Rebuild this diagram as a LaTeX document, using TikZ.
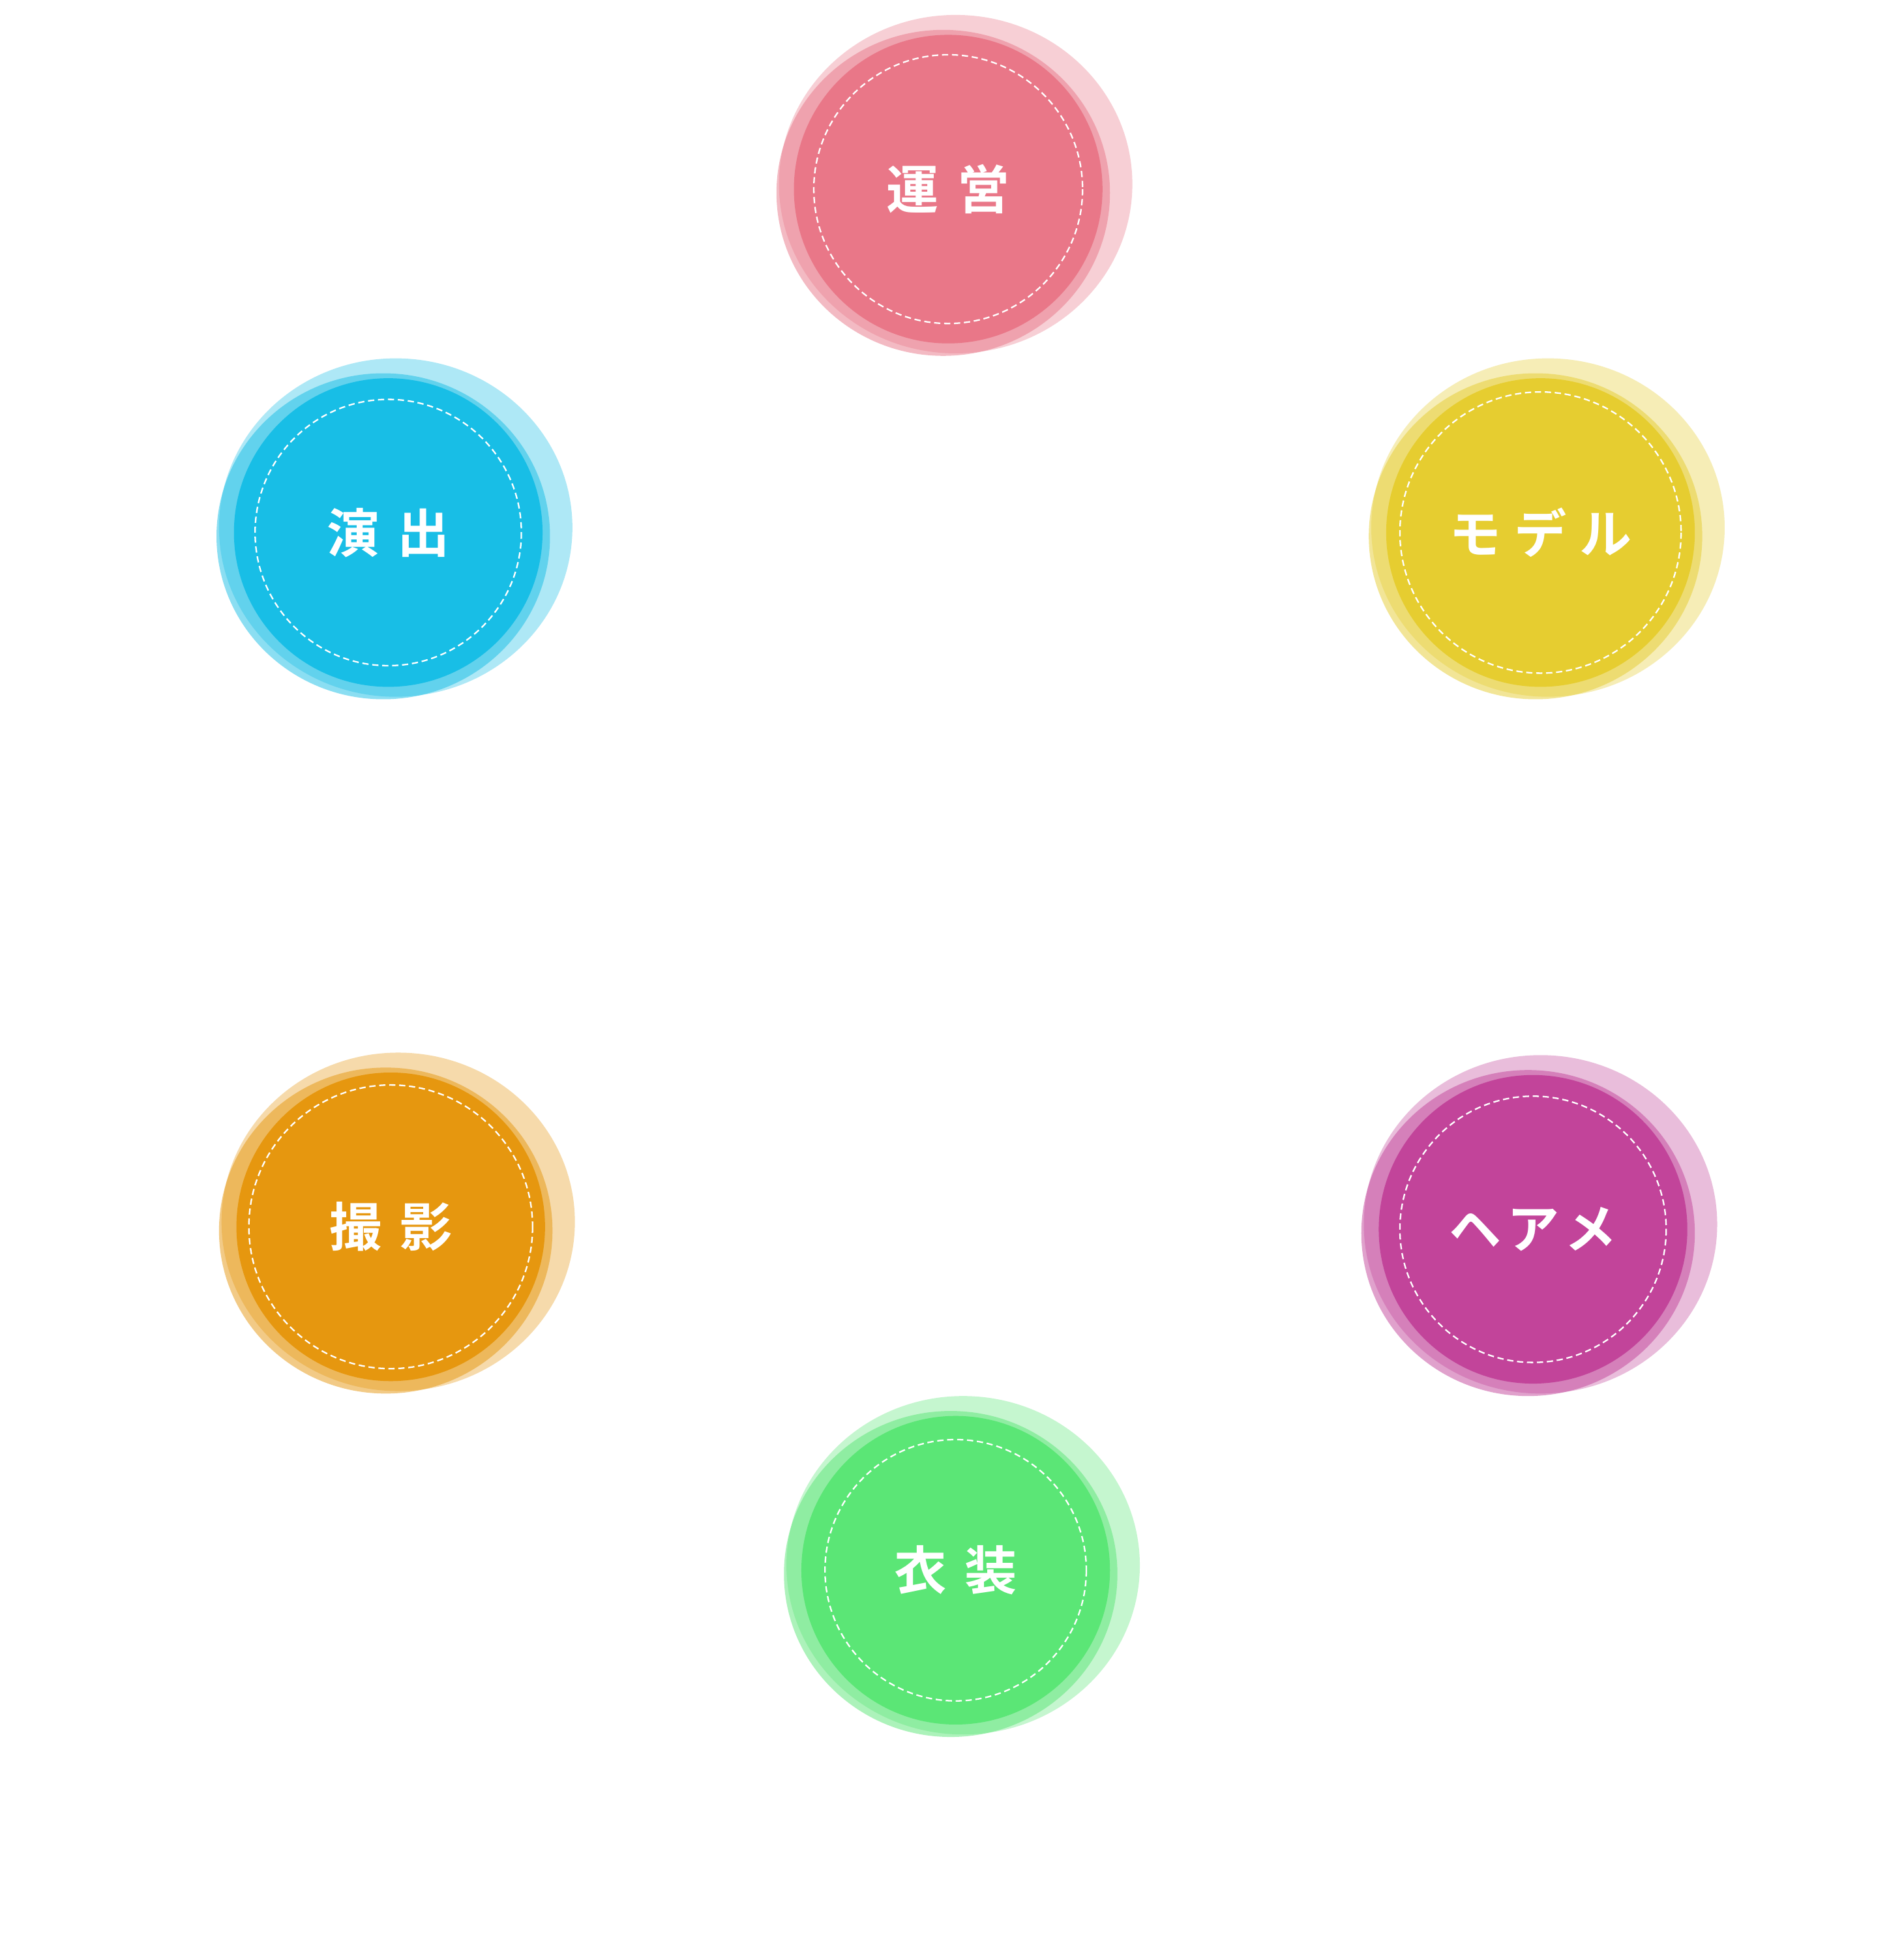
\documentclass[tikz,border=0pt]{standalone}
\usepackage{fontspec}
\newfontfamily\cjk{Noto Sans CJK JP Bold}
\definecolor{cpink}{HTML}{E97788}
\definecolor{cyel}{HTML}{E6CD30}
\definecolor{ccyan}{HTML}{18BEE6}
\definecolor{corange}{HTML}{E6970F}
\definecolor{cmag}{HTML}{C2449A}
\definecolor{cgreen}{HTML}{5BE676}
\tikzset{
  blobfill/.style={fill=#1, draw=none},
  ring/.style={draw=white, dashed, line width=1.2pt, dash pattern=on 5pt off 3pt},
  lbl/.style={text=white, font=\cjk\fontsize{42}{48}\selectfont}
}
\newcommand{\myblob}[6]{% x y color ringr label name
  \fill[#3, opacity=0.35] (#1+6,#2-4) circle[x radius=142, y radius=136];
  \fill[#3, opacity=0.5] (#1-4,#2+3) circle[x radius=134, y radius=131];
  \fill[#3] (#1,#2) circle[radius=124];
  \draw[ring] (#1,#2) circle[radius=#4];
  \node[lbl] (#6) at (#1,#2) {#5};
}
\begin{document}
\begin{tikzpicture}[x=1pt,y=-1pt]
\useasboundingbox (0,0) rectangle (1530,1560);
\fill[white] (0,0) rectangle (1530,1560);
\myblob{762}{152}{cpink}{108}{運\hspace{0.35em}営}{unei}
\myblob{1238}{428}{cyel}{113}{モ\hspace{0.25em}デ\hspace{0.25em}ル}{model}
\myblob{312}{428}{ccyan}{107}{演\hspace{0.35em}出}{ensyutsu}
\myblob{314}{986}{corange}{114}{撮\hspace{0.35em}影}{satsuei}
\myblob{1232}{988}{cmag}{107}{ヘ\hspace{0.1em}ア\hspace{0.1em}メ}{hair}
\myblob{768}{1262}{cgreen}{105}{衣\hspace{0.35em}装}{isyou}
\end{tikzpicture}
\end{document}
